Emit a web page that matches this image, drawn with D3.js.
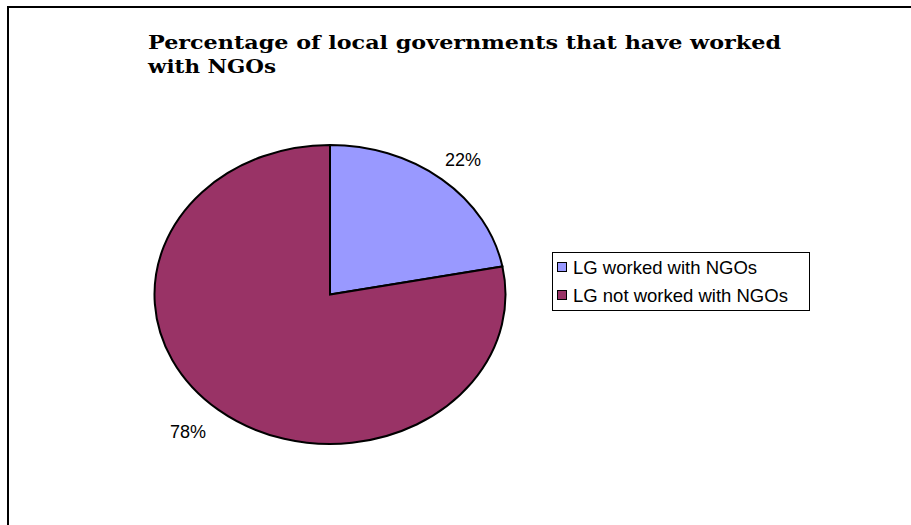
<!DOCTYPE html>
<html>
<head>
<meta charset="utf-8">
<script src="https://cdn.jsdelivr.net/npm/d3@7/dist/d3.min.js"></script>
<style>
  html, body { margin: 0; padding: 0; background: #fff; }
  svg { display: block; }
</style>
</head>
<body>
<svg id="chart" width="911" height="525"></svg>
<script>
// Survey shares for local governments and NGO cooperation
const categories = ["LG worked with NGOs", "LG not worked with NGOs"];
const values = [22, 78];
const valueLabels = ["22%", "78%"];
const colors = ["#9999FF", "#993366"];
const titleLines = ["Percentage of local governments that have worked", "with NGOs"];

const svg = d3.select("#chart");

// outer chart frame (runs off the right and bottom edges)
svg.append("rect")
  .attr("x", 8).attr("y", 7)
  .attr("width", 960).attr("height", 600)
  .attr("fill", "#fff")
  .attr("stroke", "#000")
  .attr("stroke-width", 2);

// title, two lines, stretched to the wide serif look
const titleWidths = [633, 128];
svg.append("text")
  .attr("font-family", "'DejaVu Serif', 'Liberation Serif', serif")
  .attr("font-weight", "bold")
  .attr("font-size", 19)
  .attr("fill", "#000")
  .selectAll("tspan")
  .data(titleLines)
  .join("tspan")
  .attr("x", 148)
  .attr("y", (d, i) => 49 + i * 24)
  .attr("textLength", (d, i) => titleWidths[i])
  .attr("lengthAdjust", "spacingAndGlyphs")
  .text(d => d);

// elliptical pie
const cx = 330, cy = 294.5, rx = 175.5, ry = 149.5;
const pie = d3.pie().sort(null).value(d => d);
const arcs = pie(values);
const arc = d3.arc().innerRadius(0).outerRadius(ry);

const g = svg.append("g")
  .attr("transform", `translate(${cx},${cy}) scale(${rx / ry},1)`);

g.selectAll("path")
  .data(arcs)
  .join("path")
  .attr("d", arc)
  .attr("fill", (d, i) => colors[i])
  .attr("stroke", "#000")
  .attr("stroke-width", 2)
  .attr("stroke-linejoin", "miter")
  .attr("vector-effect", "non-scaling-stroke");

// percentage labels outside the slices (x / y radius multipliers)
const labelFactor = [[1.19, 1.17], [1.27, 1.19]];
svg.selectAll("text.pct")
  .data(arcs)
  .join("text")
  .attr("class", "pct")
  .attr("font-family", "'Liberation Sans', Arial, sans-serif")
  .attr("font-size", 18)
  .attr("fill", "#000")
  .attr("text-anchor", "middle")
  .attr("dominant-baseline", "central")
  .attr("x", (d, i) => {
    const a = (d.startAngle + d.endAngle) / 2;
    return cx + rx * labelFactor[i][0] * Math.sin(a);
  })
  .attr("y", (d, i) => {
    const a = (d.startAngle + d.endAngle) / 2;
    return cy - ry * labelFactor[i][1] * Math.cos(a);
  })
  .text((d, i) => valueLabels[i]);

// legend
const legend = svg.append("g").attr("transform", "translate(552,252)");
legend.append("rect")
  .attr("x", 0.5).attr("y", 0.5)
  .attr("width", 257).attr("height", 58)
  .attr("fill", "#fff")
  .attr("stroke", "#000")
  .attr("stroke-width", 1);

const items = legend.selectAll("g.item")
  .data(categories)
  .join("g")
  .attr("class", "item")
  .attr("transform", (d, i) => `translate(0,${15 + i * 28})`);

items.append("rect")
  .attr("x", 5.5).attr("y", -4.5)
  .attr("width", 9).attr("height", 9)
  .attr("fill", (d, i) => colors[i])
  .attr("stroke", "#000")
  .attr("stroke-width", 1);

items.append("text")
  .attr("x", 21)
  .attr("y", 0)
  .attr("dominant-baseline", "central")
  .attr("font-family", "'Liberation Sans', Arial, sans-serif")
  .attr("font-size", 18.5)
  .attr("fill", "#000")
  .text(d => d);
</script>
</body>
</html>
